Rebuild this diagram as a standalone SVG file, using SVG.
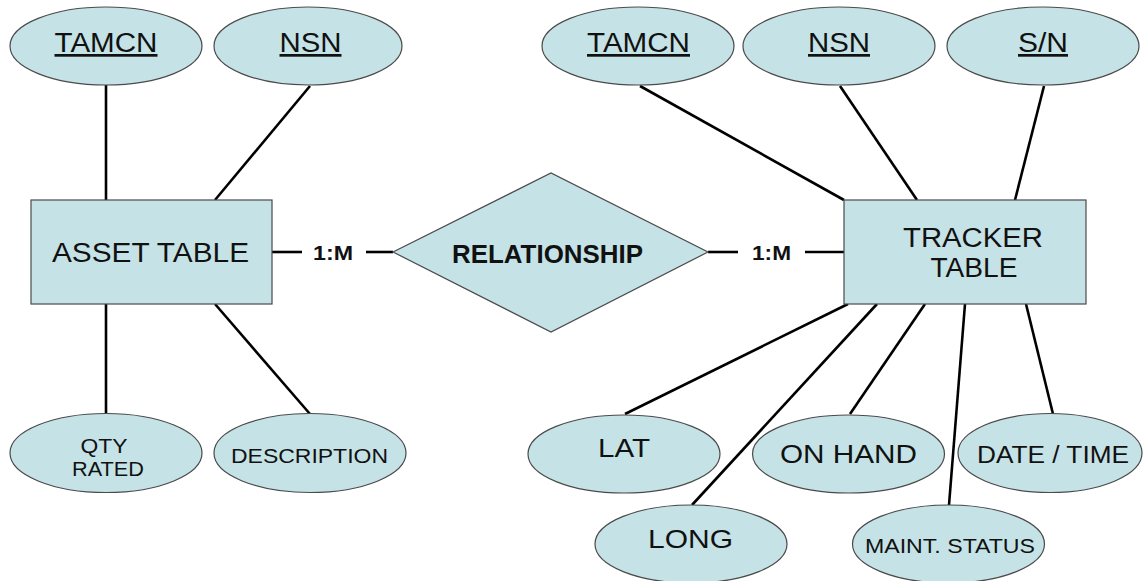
<svg xmlns="http://www.w3.org/2000/svg" width="1143" height="581" viewBox="0 0 1143 581">
<style>
.shape{fill:#c5e3e6;stroke:#4a4a4a;stroke-width:1.2}
.conn line{stroke:#000;stroke-width:2.6;stroke-linecap:butt}
text{font-family:"Liberation Sans",Arial,sans-serif;fill:#111;text-anchor:middle}
.big{font-size:27px}
.mid{font-size:25px}
.sm{font-size:20px}
.u{text-decoration:underline}
.b{font-weight:bold}
</style>
<rect width="1143" height="581" fill="#fff"/>
<g id="connectors" class="conn">
<line x1="106" y1="85" x2="106" y2="200"/>
<line x1="310" y1="86" x2="215" y2="200"/>
<line x1="106" y1="304" x2="106" y2="414"/>
<line x1="215" y1="304" x2="310" y2="414"/>
<line x1="272" y1="252" x2="302" y2="252"/>
<line x1="366" y1="252" x2="393" y2="252"/>
<line x1="708" y1="252" x2="738" y2="252"/>
<line x1="805" y1="252" x2="844" y2="252"/>
<line x1="640" y1="86" x2="844" y2="200"/>
<line x1="840" y1="86" x2="917" y2="200"/>
<line x1="1044" y1="86" x2="1015" y2="200"/>
<line x1="848" y1="304" x2="625" y2="414"/>
<line x1="877" y1="304" x2="692" y2="505"/>
<line x1="925" y1="304" x2="850" y2="414"/>
<line x1="965" y1="304" x2="949" y2="505"/>
<line x1="1026" y1="304" x2="1053" y2="414"/>
</g>
<g id="n-asset-tamcn"><ellipse class="shape" cx="106" cy="46" rx="96" ry="39"/><text class="big u" x="106" y="52" textLength="103" lengthAdjust="spacingAndGlyphs">TAMCN</text></g>
<g id="n-asset-nsn"><ellipse class="shape" cx="308" cy="46" rx="94" ry="39"/><text class="big u" x="310.5" y="52" textLength="62" lengthAdjust="spacingAndGlyphs">NSN</text></g>
<g id="n-asset"><rect class="shape" x="31" y="200" width="241" height="104"/><text class="big" x="150.5" y="262" textLength="197" lengthAdjust="spacingAndGlyphs">ASSET TABLE</text></g>
<g id="n-qty"><ellipse class="shape" cx="106" cy="453" rx="96" ry="39.5"/><text class="sm" x="104" y="453" textLength="47" lengthAdjust="spacingAndGlyphs">QTY</text><text class="sm" x="108" y="476" textLength="72" lengthAdjust="spacingAndGlyphs">RATED</text></g>
<g id="n-desc"><ellipse class="shape" cx="310" cy="453" rx="96" ry="39.5"/><text class="sm" x="309.5" y="463" textLength="157" lengthAdjust="spacingAndGlyphs">DESCRIPTION</text></g>
<g id="n-rel"><polygon class="shape" points="393,252 551,173 708,252 551,332"/><text class="mid b" x="547.5" y="263" textLength="191" lengthAdjust="spacingAndGlyphs">RELATIONSHIP</text></g>
<g id="l-card1"><text class="sm b" x="333" y="260" textLength="40" lengthAdjust="spacingAndGlyphs">1:M</text></g>
<g id="l-card2"><text class="sm b" x="771.5" y="260" textLength="39" lengthAdjust="spacingAndGlyphs">1:M</text></g>
<g id="n-trk-tamcn"><ellipse class="shape" cx="638" cy="46" rx="96" ry="39"/><text class="big u" x="638.5" y="52" textLength="103" lengthAdjust="spacingAndGlyphs">TAMCN</text></g>
<g id="n-trk-nsn"><ellipse class="shape" cx="839" cy="46" rx="96" ry="39"/><text class="big u" x="839" y="52" textLength="62" lengthAdjust="spacingAndGlyphs">NSN</text></g>
<g id="n-trk-sn"><ellipse class="shape" cx="1043" cy="46" rx="96" ry="39"/><text class="big u" x="1043" y="52" textLength="50" lengthAdjust="spacingAndGlyphs">S/N</text></g>
<g id="n-tracker"><rect class="shape" x="844" y="200" width="242" height="104"/><text class="big" x="973" y="247" textLength="140" lengthAdjust="spacingAndGlyphs">TRACKER</text><text class="big" x="974" y="277" textLength="87" lengthAdjust="spacingAndGlyphs">TABLE</text></g>
<g id="n-lat"><ellipse class="shape" cx="624" cy="454" rx="96" ry="39"/><text class="mid" x="624" y="457" textLength="52" lengthAdjust="spacingAndGlyphs">LAT</text></g>
<g id="n-onhand"><ellipse class="shape" cx="848.5" cy="454" rx="96" ry="39"/><text class="mid" x="848.5" y="463" textLength="137" lengthAdjust="spacingAndGlyphs">ON HAND</text></g>
<g id="n-datetime"><ellipse class="shape" cx="1050" cy="453" rx="92" ry="39.5"/><text x="1053" y="463" style="font-size:23px" textLength="152" lengthAdjust="spacingAndGlyphs">DATE / TIME</text></g>
<g id="n-long"><ellipse class="shape" cx="691" cy="544" rx="96" ry="39"/><text class="mid" x="690.5" y="548" textLength="85" lengthAdjust="spacingAndGlyphs">LONG</text></g>
<g id="n-maint"><ellipse class="shape" cx="948.5" cy="544" rx="96" ry="39"/><text class="sm" x="950" y="553" textLength="170" lengthAdjust="spacingAndGlyphs">MAINT. STATUS</text></g>
</svg>
